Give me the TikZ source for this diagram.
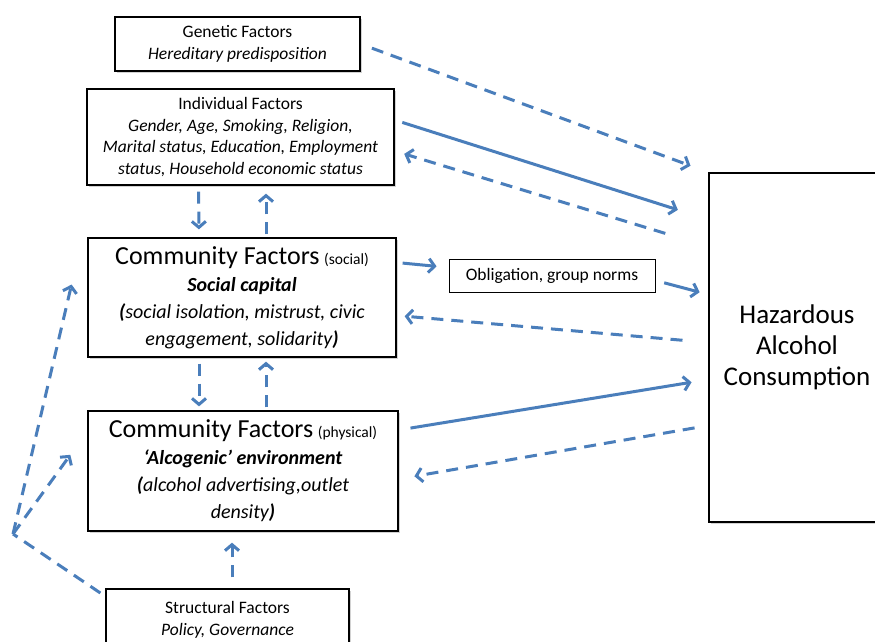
\documentclass[tikz,border=0pt]{standalone}
\usepackage{fontspec}
\setmainfont{Carlito}
\usetikzlibrary{arrows.meta,shadows}

\definecolor{arrowblue}{RGB}{74,126,187}

\newcommand{\smallfs}{\fontsize{17.5}{21.5}\selectfont}
\newcommand{\midfs}{\fontsize{20}{27}\selectfont}
\newcommand{\bigfs}{\fontsize{26}{27}\selectfont}
\newcommand{\tinyfs}{\fontsize{15.5}{27}\selectfont}
\newcommand{\hugefs}{\fontsize{27}{31}\selectfont}

\begin{document}
\begin{tikzpicture}[
      x=1pt, y=-1pt,
      every node/.style = {align=center, inner sep=0pt},
      factor/.style   = {draw=black, fill=white, line width=1.3pt,
                         drop shadow={shadow xshift=2pt, shadow yshift=-2pt, opacity=0.35}},
      mediator/.style = {draw=black, fill=white, line width=1pt},
      link/.style     = {draw=arrowblue, line width=3pt, -{Straight Barb[length=6pt, width=14pt]}},
      feedback/.style = {link, dash pattern=on 12pt off 8pt}
    ]
    \path [use as bounding box, fill=white] (0,0) rectangle (875,641);

    \node (genetic)    [factor, font=\smallfs, minimum width=245, minimum height=54]  at (237.5,44)  {Genetic Factors\\ \textit{Hereditary predisposition}};
    \node (individual) [factor, font=\smallfs, minimum width=307, minimum height=96]  at (240.5,137) {Individual Factors\\
      \textit{Gender, Age, Smoking, Religion,}\\ \textit{Marital status, Education, Employment}\\ \textit{status, Household economic status}};
    \node (social)     [factor, font=\midfs, minimum width=308, minimum height=119]   at (242,297.5)  {{\bigfs Community Factors} {\tinyfs (social)}\\
      \textbf{\textit{Social capital}}\\ \textit{\textbf{(}social isolation, mistrust, civic}\\ \textit{engagement, solidarity\textbf{)}}};
    \node (physical)   [factor, font=\midfs, minimum width=310, minimum height=120]   at (243,471)    {{\bigfs Community Factors} {\tinyfs (physical)}\\
      \textbf{\textit{`Alcogenic' environment}}\\ \textit{\textbf{(}alcohol advertising,outlet}\\ \textit{density\textbf{)}}};
    \node (structural) [factor, font=\smallfs, minimum width=243, minimum height=62]  at (227.5,620) {Structural Factors\\ \textit{Policy, Governance}};
    \node (obligation) [mediator, font=\smallfs, minimum width=206, minimum height=33] at (552,275.5) {Obligation, group norms};
    \node (hazard)     [factor, font=\hugefs, minimum width=176, minimum height=349]  at (797,347.5) {Hazardous\\ Alcohol\\ Consumption};
    \coordinate (branch) at (13,534);

    % towards the outcome and back
    \draw [feedback, shorten <=12pt, shorten >=19pt] (genetic.east) -- (hazard.north west);
    \draw [link, shorten <=8pt, shorten >=32pt] ([yshift=17pt]individual.east) -- ([yshift=128pt]hazard.west);
    \draw [feedback, shorten <=45pt, shorten >=10pt] ([yshift=101pt]hazard.west) -- ([yshift=-14pt]individual.east);
    \draw [link, shorten <=6pt, shorten >=12pt] ([yshift=35pt]social.east) -- ([yshift=8pt]obligation.west);
    \draw [link, shorten <=9pt, shorten >=9pt] ([yshift=-5pt]obligation.east) -- ([yshift=53pt]hazard.west);
    \draw [feedback, shorten <=26pt, shorten >=8pt] ([yshift=5pt]hazard.west) -- ([yshift=-18pt]social.east);
    \draw [link, shorten <=12pt, shorten >=17pt] ([yshift=41pt]physical.east) -- ([yshift=-32pt]hazard.west);
    \draw [feedback, shorten <=14pt, shorten >=16pt] ([yshift=-78pt]hazard.west) -- ([yshift=-8pt]physical.east);

    % between the levels
    \draw [feedback, shorten <=6pt, shorten >=8pt] ([xshift=-42pt]individual.south) -- ([xshift=-43pt]social.north);
    \draw [feedback, shorten <=3pt, shorten >=8pt] ([xshift=24pt]social.north) -- ([xshift=25.5pt]individual.south);
    \draw [feedback, shorten <=6pt, shorten >=4pt] ([xshift=-43pt]social.south) -- ([xshift=-44pt]physical.north);
    \draw [feedback, shorten <=3pt, shorten >=4pt] ([xshift=23pt]physical.north) -- ([xshift=24pt]social.south);
    \draw [feedback, shorten <=11pt, shorten >=11pt] ([xshift=4.5pt]structural.north) -- ([xshift=-11pt]physical.south);

    \draw [feedback, -, shorten <=6pt] ([yshift=-8pt]structural.north west) -- (branch);
    \draw [feedback, shorten >=69pt] (branch) -- ([yshift=20pt]social.north west);
    \draw [feedback, shorten >=29pt] (branch) -- ([yshift=-21pt]physical.north west);
  \end{tikzpicture}
\end{document}
